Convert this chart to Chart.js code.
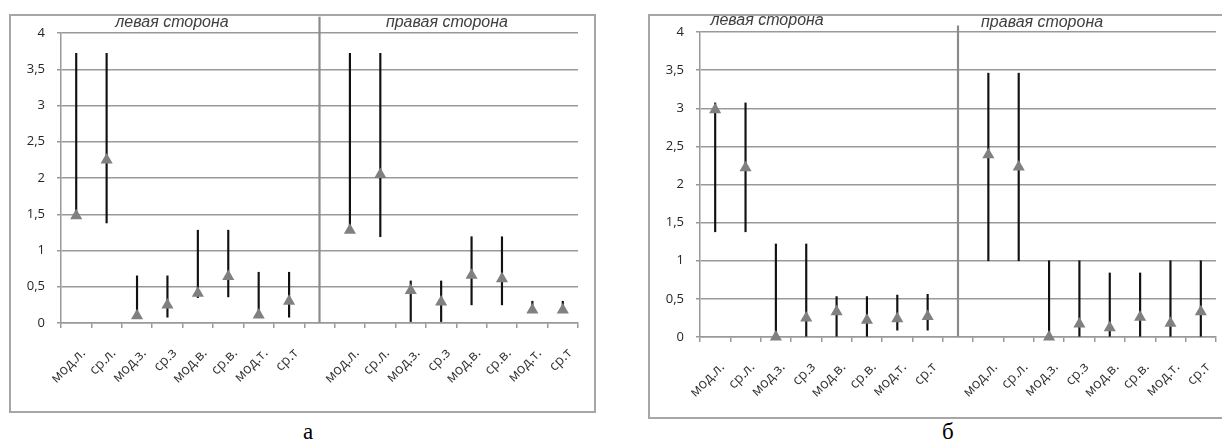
<!DOCTYPE html>
<html>
<head>
<meta charset="utf-8">
<script src="https://cdn.jsdelivr.net/npm/chart.js@4.4.1/dist/chart.umd.min.js"></script>
<style>
    html, body { margin: 0; padding: 0; background: #fff; overflow: hidden; }
    body { width: 1222px; height: 447px; position: relative; }
    .frame { position: absolute; border: 2px solid #a6a6a6; box-sizing: border-box; }
    canvas { position: absolute; }
    .caption { position: absolute; font-family: "Liberation Serif", serif; font-size: 23px; color: #000; }
</style>
</head>
<body>
<div class="frame" style="left:9px; top:14px; width:587px; height:399px;"></div>
<canvas id="chartA" width="587" height="399" style="left:9px; top:14px;"></canvas>
<div class="frame" style="left:648px; top:14px; width:580px; height:405px;"></div>
<canvas id="chartB" width="578" height="405" style="left:648px; top:14px;"></canvas>
<div class="caption" style="left:303px; top:419px;">а</div>
<div class="caption" style="left:942px; top:419px;">б</div>

<script>
// Категории (8 слева, пустая, 8 справа)
const categories = ['мод.л.', 'ср.л.', 'мод.з.', 'ср.з', 'мод.в.', 'ср.в.', 'мод.т.', 'ср.т', '',
    'мод.л.', 'ср.л.', 'мод.з.', 'ср.з', 'мод.в.', 'ср.в.', 'мод.т.', 'ср.т'];
const yTickLabels = ['0', '0,5', '1', '1,5', '2', '2,5', '3', '3,5', '4'];
const sideTitles = ['левая сторона', 'правая сторона'];

// График а
const markA = [1.48, 2.25, 0.10, 0.25, 0.41, 0.64, 0.11, 0.30, null, 1.28, 2.05, 0.45, 0.29, 0.66, 0.61, 0.18, 0.18];
const lowA  = [1.48, 1.38, 0.10, 0.08, 0.35, 0.36, 0.11, 0.08, null, 1.28, 1.19, 0.02, 0.02, 0.25, 0.25, 0.18, 0.18];
const highA = [3.72, 3.72, 0.65, 0.65, 1.28, 1.28, 0.70, 0.70, null, 3.72, 3.72, 0.58, 0.58, 1.19, 1.19, 0.30, 0.30];
const dividerTopA = 4.22;

// График б
const markB = [2.98, 2.22, 0.00, 0.25, 0.33, 0.22, 0.24, 0.27, null, 2.39, 2.23, 0.00, 0.17, 0.12, 0.26, 0.18, 0.33];
const lowB  = [1.38, 1.38, 0.00, 0.00, 0.00, 0.00, 0.09, 0.09, null, 1.00, 1.00, 0.00, 0.00, 0.00, 0.00, 0.00, 0.00];
const highB = [3.07, 3.07, 1.22, 1.22, 0.53, 0.53, 0.55, 0.56, null, 3.46, 3.46, 1.00, 1.00, 0.84, 0.84, 1.00, 1.00];
const dividerTopB = 4.08;

const gridColor = '#999999';
const labelColor = '#333333';

// Подписи "левая сторона" / "правая сторона" над областью графика
const sideTitlePlugin = {
    id: 'sideTitles',
    afterDraw(chart, args, opts) {
        const ctx = chart.ctx;
        const x = chart.scales.x;
        ctx.save();
        ctx.font = 'italic 16px "Liberation Sans", Arial, sans-serif';
        ctx.fillStyle = '#404040';
        ctx.textAlign = 'center';
        ctx.textBaseline = 'middle';
        opts.items.forEach(item => {
            ctx.fillText(item.text, x.getPixelForValue(item.at), item.y);
        });
        ctx.restore();
    }
};

function createRangeChart(canvasId, marks, lows, highs, dividerTop, layout) {
    const ranges = lows.map((l, i) => l === null ? null : [l, highs[i]]);
    const divider = categories.map(c => c === '' ? [0, dividerTop] : null);

    return new Chart(document.getElementById(canvasId), {
        data: {
            labels: categories,
            datasets: [{
                type: 'line',
                data: marks,
                showLine: false,
                pointStyle: 'triangle',
                pointRadius: 7,
                pointHoverRadius: 7,
                pointBackgroundColor: '#808080',
                pointBorderColor: '#808080',
                pointBorderWidth: 0,
                clip: false,
                order: 0
            }, {
                type: 'bar',
                data: ranges,
                backgroundColor: '#111111',
                barThickness: 1.5,
                grouped: false,
                clip: false,
                order: 1
            }, {
                type: 'bar',
                data: divider,
                backgroundColor: '#8a8a8a',
                barThickness: 1.5,
                grouped: false,
                clip: false,
                order: 2
            }]
        },
        options: {
            responsive: false,
            animation: false,
            devicePixelRatio: 1,
            layout: { padding: { top: layout.top, right: layout.right, left: 0, bottom: 0 } },
            plugins: {
                legend: { display: false },
                tooltip: { enabled: false },
                sideTitles: { items: layout.titles }
            },
            scales: {
                x: {
                    offset: true,
                    grid: { drawOnChartArea: false, color: gridColor, lineWidth: 1.5, tickLength: 5, offset: true },
                    border: { color: gridColor, width: 1.5 },
                    ticks: {
                        autoSkip: false,
                        minRotation: 45,
                        maxRotation: 45,
                        padding: layout.xPadding,
                        labelOffset: 7,
                        color: labelColor,
                        font: { family: '"Open Sans", sans-serif', size: 14 }
                    },
                    afterFit: scale => {
                        scale.height = layout.xHeight;
                        scale.paddingLeft = 0;
                        scale.paddingRight = 0;
                    }
                },
                y: {
                    min: 0,
                    max: 4,
                    grid: { color: gridColor, lineWidth: 1.5, tickLength: 4 },
                    border: { color: gridColor, width: 1.5 },
                    ticks: {
                        stepSize: 0.5,
                        padding: 12,
                        color: '#262626',
                        font: { family: '"Open Sans", sans-serif', size: 13 },
                        callback: (value, index) => yTickLabels[index]
                    },
                    afterFit: scale => {
                        scale.width = 52;
                        scale.paddingTop = 0;
                        scale.paddingBottom = 0;
                    }
                }
            }
        },
        plugins: [sideTitlePlugin]
    });
}

createRangeChart('chartA', markA, lowA, highA, dividerTopA, {
    top: 19, right: 18, xHeight: 90, xPadding: 17,
    titles: [{ text: sideTitles[0], at: 3.15, y: 9 }, { text: sideTitles[1], at: 12.19, y: 9 }]
});

createRangeChart('chartB', markB, lowB, highB, dividerTopB, {
    top: 18, right: 10, xHeight: 82, xPadding: 17,
    titles: [{ text: sideTitles[0], at: 1.71, y: 7 }, { text: sideTitles[1], at: 10.77, y: 9 }]
});
</script>
</body>
</html>
